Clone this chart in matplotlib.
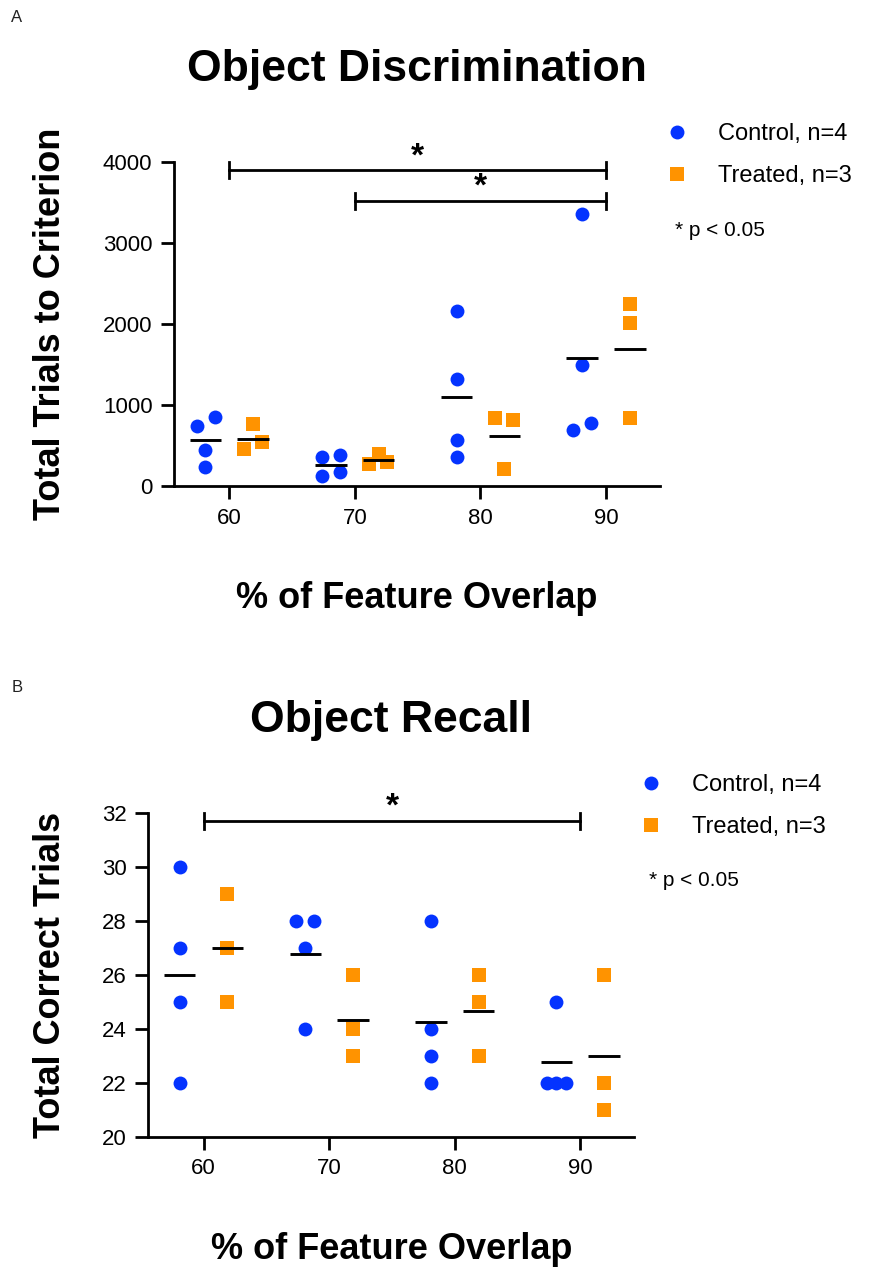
import numpy as np
import matplotlib
matplotlib.use("Agg")
import matplotlib.pyplot as plt

plt.rcParams['font.family'] = ['Liberation Sans', 'DejaVu Sans']

# percent of feature overlap tested
overlap = [60, 70, 80, 90]

# Object discrimination: total trials to criterion, one list per overlap level
disc_control = [[745, 848, 448, 238],
                [362, 387, 123, 177],
                [2164, 1317, 572, 362],
                [3362, 1498, 695, 782]]
disc_treated = [[762, 453, 540],
                [395, 268, 292],
                [835, 811, 206],
                [2243, 2008, 835]]

# Object recall: total correct trials
recall_control = [[30, 27, 25, 22],
                  [28, 28, 27, 24],
                  [28, 24, 23, 22],
                  [25, 22, 22, 22]]
recall_treated = [[29, 27, 25],
                  [26, 24, 23],
                  [26, 25, 23],
                  [26, 22, 21]]

# horizontal spread of overlapping points (x units)
disc_control_jit = [[-0.7, 0.75, 0, 0], [-0.7, 0.7, -0.7, 0.7],
                    [0, 0, 0, 0], [0, 0, -0.75, 0.7]]
disc_treated_jit = [[0, -0.75, 0.7], [0, -0.75, 0.7],
                    [-0.7, 0.7, 0], [0, 0, 0]]
recall_control_jit = [[0, 0, 0, 0], [-0.75, 0.7, 0, 0],
                      [0, 0, 0, 0], [0, -0.75, 0, 0.75]]
recall_treated_jit = [[0, 0, 0], [0, 0, 0], [0, 0, 0], [0, 0, 0]]

# significant comparisons: (from, to, bar height)
disc_sig = [(60, 90, 3900), (70, 90, 3520)]
recall_sig = [(60, 90, 31.7)]

BLUE = '#0433FF'
ORANGE = '#FF9300'
W, H = 869, 1267
GROUP_OFF = 1.9
MEAN_HALF = 1.25


def draw_group(ax, groups, jitter, shift, color, marker, label):
    for i, x0 in enumerate(overlap):
        vals = np.array(groups[i], dtype=float)
        xs = x0 + shift + np.array(jitter[i])
        ax.plot(xs, vals, linestyle='none', marker=marker, markersize=10,
                color=color, markeredgewidth=0, clip_on=False, zorder=3,
                label=label if i == 0 else None)
        cx = x0 + shift
        ax.plot([cx - MEAN_HALF, cx + MEAN_HALF], [vals.mean()] * 2,
                color='black', linewidth=2.1, solid_capstyle='butt', zorder=4)


def draw_sig(ax, sigs, cap, star_off):
    for x1, x2, y in sigs:
        ax.plot([x1, x2], [y, y], color='black', lw=2.0, clip_on=False)
        for xe in (x1, x2):
            ax.plot([xe, xe], [y - cap, y + cap], color='black', lw=2.0,
                    clip_on=False)
        ax.text((x1 + x2) / 2, y + star_off, '*', ha='center', va='center',
                fontsize=24, fontweight='bold')


def style_axes(ax, title, ylabel, ylim, yticks, ylabel_x):
    ax.set_xlim(55.6, 94.3)
    ax.set_ylim(*ylim)
    ax.set_xticks(overlap)
    ax.set_yticks(yticks)
    for s in ('top', 'right'):
        ax.spines[s].set_visible(False)
    for s in ('left', 'bottom'):
        ax.spines[s].set_linewidth(2.0)
    ax.tick_params(width=2.0, length=9.5, labelsize=16, pad=6)
    ax.set_title(title, fontsize=32, fontweight='bold', pad=58)
    ax.set_xlabel('% of Feature Overlap', fontsize=26, fontweight='bold',
                  labelpad=38)
    ax.set_ylabel(ylabel, fontsize=26, fontweight='bold')
    ax.yaxis.set_label_coords(ylabel_x, 0.5)
    ax.legend(loc='upper left', bbox_to_anchor=(1.01, 1.12), frameon=False,
              fontsize=17, handlelength=1.0, handletextpad=1.25,
              labelspacing=0.85, borderpad=0, borderaxespad=0)
    ax.text(1.031, 0.79, '* p < 0.05', transform=ax.transAxes, fontsize=15,
            va='center', ha='left')


fig = plt.figure(figsize=(W / 100, H / 100), dpi=100)

ax1 = fig.add_axes([174 / W, 1 - 486 / H, 486 / W, 324 / H])
draw_group(ax1, disc_control, disc_control_jit, -GROUP_OFF, BLUE, 'o',
           'Control, n=4')
draw_group(ax1, disc_treated, disc_treated_jit, GROUP_OFF, ORANGE, 's',
           'Treated, n=3')
draw_sig(ax1, disc_sig, 100, 165)
style_axes(ax1, 'Object Discrimination', 'Total Trials to Criterion',
           (0, 4000), [0, 1000, 2000, 3000, 4000], -0.219)

ax2 = fig.add_axes([148.3 / W, 1 - 1136.7 / H, 486 / W, 324 / H])
draw_group(ax2, recall_control, recall_control_jit, -GROUP_OFF, BLUE, 'o',
           'Control, n=4')
draw_group(ax2, recall_treated, recall_treated_jit, GROUP_OFF, ORANGE, 's',
           'Treated, n=3')
draw_sig(ax2, recall_sig, 0.3, 0.5)
style_axes(ax2, 'Object Recall', 'Total Correct Trials',
           (20, 32), list(range(20, 33, 2)), -0.166)

fig.text(17 / W, 1 - 18 / H, 'A', fontsize=12, color='#222222',
         ha='center', va='center')
fig.text(17 / W, 1 - 688 / H, 'B', fontsize=12, color='#222222',
         ha='center', va='center')

fig.savefig('out.png', dpi=100)
